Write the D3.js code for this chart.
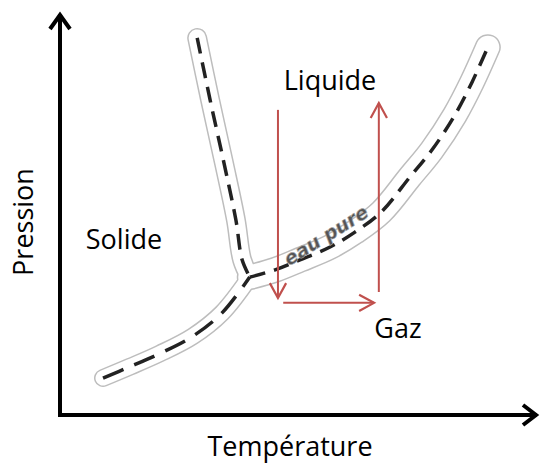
<!DOCTYPE html>
<html><head><meta charset="utf-8">
<script src="https://cdn.jsdelivr.net/npm/d3@7/dist/d3.min.js"></script>
<style>body{margin:0;background:#fff;} svg{display:block;}</style>
</head><body>
<svg id="c" width="542" height="466"></svg>
<script>
// Phase boundaries (temperature, pressure) in arbitrary units 0..100
const sublimation = [[9.0,9.2],[14.6,12.0],[20.9,15.3],[27.8,19.6],[33.9,25.4],[39.7,34.3]];
const fusion = [[28.7,93.8],[31.4,78.4],[34.3,62.7],[36.8,48.5],[38.1,38.6],[39.7,34.3]];
const vaporization = [[39.7,34.3],[45.0,36.1],[50.2,38.6],[56.5,41.8],[61.7,45.5],[67.2,50.5],[73.2,59.2],[77.8,65.9],[82.6,74.6],[86.2,82.8],[89.5,91.5]];
// Transformation arrows: [from, to]
const arrows = [
  [[45.6,75.9],[45.6,29.1]],
  [[46.7,27.9],[65.7,27.9]],
  [[66.7,30.6],[66.7,77.6]]
];
const phaseLabels = ["Solide","Liquide","Gaz"];
const axisLabels = {x:"Température", y:"Pression"};
const curveLabel = "eau pure";

const svg = d3.select("#c");
const x = d3.scaleLinear().domain([0,100]).range([60,538]);
const y = d3.scaleLinear().domain([0,100]).range([415,13]);
const line = d3.line().x(d=>x(d[0])).y(d=>y(d[1])).curve(d3.curveCatmullRom);

// grey halo bands
const halo = svg.append("g");
const bands = [[sublimation,18],[fusion,20],[vaporization,26]];
bands.forEach(([d,w])=>{
  halo.append("path").attr("d",line(d)).attr("fill","none").attr("stroke","#bdbdbd")
    .attr("stroke-width",w).attr("stroke-linecap","round").attr("stroke-linejoin","round");
});
bands.forEach(([d,w])=>{
  halo.append("path").attr("d",line(d)).attr("fill","none").attr("stroke","#fff")
    .attr("stroke-width",w-3).attr("stroke-linecap","round").attr("stroke-linejoin","round");
});

// dashed curves
[[sublimation,"22,12"],[fusion,"16,9"],[vaporization,"16,9"]].forEach(([d,da])=>{
  svg.append("path").attr("d",line(d)).attr("fill","none").attr("stroke","#222")
    .attr("stroke-width",3.5).attr("stroke-dasharray",da);
});

// curve label
const p1 = [x(50.2),y(38.6)], p2=[x(61.7),y(45.5)];
svg.append("text").attr("x",0).attr("y",0)
  .attr("transform",`translate(${(p1[0]+p2[0])/2+2},${(p1[1]+p2[1])/2-5}) rotate(-32)`)
  .attr("text-anchor","middle").attr("font-family","DejaVu Sans, sans-serif")
  .attr("font-style","italic").attr("font-weight","bold").attr("font-size",19)
  .attr("fill","#555").attr("stroke","#aaa").attr("stroke-width",0.6).text(curveLabel);

// red arrows
const red = "#c0504d";
arrows.forEach(([a,b])=>{
  const x1=x(a[0]),y1=y(a[1]),x2=x(b[0]),y2=y(b[1]);
  svg.append("line").attr("x1",x1).attr("y1",y1).attr("x2",x2).attr("y2",y2)
    .attr("stroke",red).attr("stroke-width",2);
  const ang=Math.atan2(y2-y1,x2-x1), L=17, s=0.5;
  const w1=[x2-L*Math.cos(ang-s), y2-L*Math.sin(ang-s)];
  const w2=[x2-L*Math.cos(ang+s), y2-L*Math.sin(ang+s)];
  svg.append("path").attr("d",`M${w1}L${x2},${y2}L${w2}`).attr("fill","none")
    .attr("stroke",red).attr("stroke-width",2.2);
});

// axes
const ax = svg.append("g").attr("stroke","#000").attr("fill","none").attr("stroke-width",4);
ax.append("path").attr("d",`M${x(0)},${y(100)+1}L${x(0)},${y(0)}L${x(100)-1},${y(0)}`).attr("stroke-linejoin","miter");
ax.append("path").attr("d",`M${x(0)-10},${y(100)+16}L${x(0)},${y(100)+2}L${x(0)+10},${y(100)+16}`);
ax.append("path").attr("d",`M${x(100)-15},${y(0)-10}L${x(100)-2},${y(0)}L${x(100)-15},${y(0)+10}`);

const font = "'Open Sans', sans-serif";
svg.append("text").attr("x",290).attr("y",456).attr("text-anchor","middle")
  .attr("font-family",font).attr("font-size",27).attr("fill","#000").text(axisLabels.x);
svg.append("text").attr("transform","translate(33,222) rotate(-90)").attr("text-anchor","middle")
  .attr("font-family",font).attr("font-size",27).attr("fill","#000").text(axisLabels.y);

const lp = [[124,249],[330,90],[398,338]];
phaseLabels.forEach((t,i)=>{
  svg.append("text").attr("x",lp[i][0]).attr("y",lp[i][1]).attr("text-anchor","middle")
    .attr("font-family",font).attr("font-size",27).attr("fill","#000").text(t);
});
</script>
</body></html>
